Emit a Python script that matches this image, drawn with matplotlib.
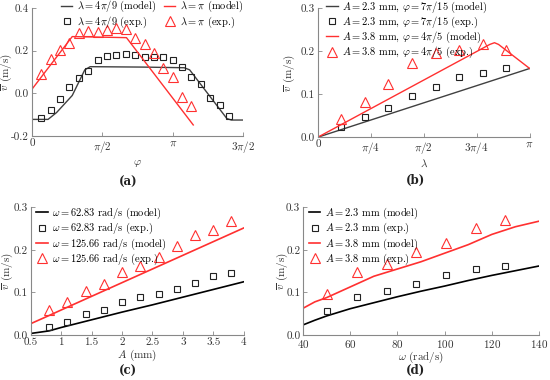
import matplotlib
matplotlib.use('Agg')
import matplotlib.pyplot as plt
import numpy as np

plt.rcParams['font.family'] = 'serif'
plt.rcParams['font.serif'] = ['cmr10', 'DejaVu Serif']
plt.rcParams['mathtext.fontset'] = 'cm'
plt.rcParams['axes.formatter.use_mathtext'] = True
plt.rcParams['font.size'] = 8

PI = np.pi
RED = '#ff3030'
DARK = '#404040'
LEGFS = 7.5

# ---------------- (a) v vs phi
a_line_blk_x = [0, 0.36, 0.55, 0.9, 1.18, 1.3, 2.5, 3.4, 3.52, 4.35, 4.45, 4.71]
a_line_blk_y = [-0.122, -0.122, -0.09, -0.01, 0.11, 0.125, 0.123, 0.12, 0.11, -0.118, -0.125, -0.125]
a_line_red_x = [0, 0.90, 2.11, 3.60]
a_line_red_y = [0.019, 0.266, 0.261, -0.148]
a_sq_k = list(range(1, 22))
a_sq_y = [-0.114, -0.078, -0.027, 0.030, 0.070, 0.103, 0.155, 0.175, 0.180, 0.186, 0.180,
          0.172, 0.169, 0.169, 0.156, 0.123, 0.075, 0.042, -0.023, -0.056, -0.108]
a_tri_k = list(range(1, 18))
a_tri_y = [0.089, 0.159, 0.203, 0.238, 0.281, 0.291, 0.289, 0.295, 0.306, 0.300, 0.258,
           0.231, 0.189, 0.117, 0.077, -0.016, -0.059]

# ---------------- (b) v vs lambda
b_line_blk_x = [0, PI]
b_line_blk_y = [0, 0.160]
b_line_red_x = [0, 2.55, 2.62, 2.68, PI]
b_line_red_y = [0, 0.216, 0.220, 0.216, 0.160]
b_k = list(range(1, 9))
b_sq_y = [0.023, 0.048, 0.068, 0.096, 0.117, 0.141, 0.150, 0.161]
b_tri_y = [0.043, 0.083, 0.125, 0.173, 0.195, 0.204, 0.216, 0.202]

# ---------------- (c) v vs A
c_line_x = [0.5, 0.8, 1.0, 1.5, 2.0, 2.5, 3.0, 3.5, 4.0]
c_line_blk_y = [0.004, 0.010, 0.018, 0.036, 0.054, 0.071, 0.089, 0.107, 0.125]
c_line_red_y = [0.027, 0.046, 0.059, 0.091, 0.123, 0.155, 0.187, 0.219, 0.251]
c_A = [0.8, 1.1, 1.4, 1.7, 2.0, 2.3, 2.6, 2.9, 3.2, 3.5, 3.8]
c_sq_y = [0.019, 0.030, 0.050, 0.060, 0.078, 0.089, 0.097, 0.108, 0.122, 0.139, 0.146]
c_tri_y = [0.058, 0.078, 0.103, 0.119, 0.148, 0.161, 0.182, 0.209, 0.234, 0.246, 0.267]

# ---------------- (d) v vs omega
d_line_x = [40, 45, 50, 60, 70, 80, 90, 100, 110, 120, 130, 140]
d_line_blk_y = [0.024, 0.035, 0.045, 0.062, 0.076, 0.090, 0.103, 0.115, 0.128, 0.140, 0.151, 0.162]
d_line_red_y = [0.063, 0.078, 0.088, 0.113, 0.138, 0.155, 0.172, 0.192, 0.212, 0.236, 0.254, 0.267]
d_w = [50.27, 62.83, 75.40, 87.96, 100.53, 113.10, 125.66]
d_sq_y = [0.056, 0.090, 0.103, 0.119, 0.140, 0.156, 0.161]
d_tri_y = [0.097, 0.148, 0.166, 0.195, 0.217, 0.251, 0.269]

fig = plt.figure(figsize=(5.5, 3.8), dpi=100)
axa = fig.add_axes([0.058, 0.642, 0.384, 0.337])
axb = fig.add_axes([0.578, 0.639, 0.385, 0.339])
axc = fig.add_axes([0.056, 0.118, 0.387, 0.337])
axd = fig.add_axes([0.551, 0.118, 0.429, 0.337])

def style(ax, ylab_x):
    for s in ['top', 'right']:
        ax.spines[s].set_visible(False)
    for s in ['left', 'bottom']:
        ax.spines[s].set_color('#888888')
        ax.spines[s].set_linewidth(0.8)
    ax.tick_params(direction='in', length=3, width=0.6, colors='#888888',
                   labelcolor='#333333', labelsize=8, pad=2)
    ax.set_ylabel(r'$\overline{v}$ (m/s)', color='#333333')
    ax.yaxis.set_label_coords(ylab_x, 0.5)

def legend(ax, **kw):
    ax.legend(frameon=False, fontsize=LEGFS, handlelength=1.1, handletextpad=0.4,
              labelspacing=0.0, borderpad=0.0, borderaxespad=0.0, **kw)

def panel(x, y, s):
    fig.text(x, y, s, ha='center', va='center', fontsize=8.5,
             fontfamily='DejaVu Serif', fontweight='bold', color='#222222')

sq = dict(ls='none', marker='s', ms=5, mfc='none', mec='#222222', mew=0.8)
tri = dict(ls='none', marker='^', ms=6.5, mfc='none', mec=RED, mew=0.8)

# (a)
ax = axa
ax.plot(a_line_blk_x, a_line_blk_y, color=DARK, lw=1, label=r'$\lambda = 4\pi/9$ (model)')
ax.plot([k * PI / 15 for k in a_sq_k], a_sq_y, label=r'$\lambda = 4\pi/9$ (exp.)', **sq)
ax.plot(a_line_red_x, a_line_red_y, color=RED, lw=1, label=r'$\lambda = \pi$ (model)')
ax.plot([k * PI / 15 for k in a_tri_k], a_tri_y, label=r'$\lambda = \pi$ (exp.)', **tri)
ax.set_xlim(0, 1.5 * PI)
ax.set_ylim(-0.2, 0.4)
ax.set_xticks([0, PI / 2, PI, 1.5 * PI])
ax.set_xticklabels(['0', r'$\pi/2$', r'$\pi$', r'$3\pi/2$'])
ax.set_yticks([-0.2, 0.0, 0.2, 0.4])
ax.set_yticklabels(['-0.2', '0.0', '0.2', '0.4'])
style(ax, -0.085)
ax.set_xlabel(r'$\varphi$', color='#333333', labelpad=2)
legend(ax, ncol=2, loc='upper right', bbox_to_anchor=(1.0, 1.07), columnspacing=0.8)
panel(0.233, 0.521, '(a)')

# (b)
ax = axb
ax.plot(b_line_blk_x, b_line_blk_y, color=DARK, lw=1,
        label=r'$A = 2.3$ mm, $\varphi = 7\pi/15$ (model)')
ax.plot([k * PI / 9 for k in b_k], b_sq_y,
        label=r'$A = 2.3$ mm, $\varphi = 7\pi/15$ (exp.)', **sq)
ax.plot(b_line_red_x, b_line_red_y, color=RED, lw=1,
        label=r'$A = 3.8$ mm, $\varphi = 4\pi/5$ (model)')
ax.plot([k * PI / 9 for k in b_k], b_tri_y,
        label=r'$A = 3.8$ mm, $\varphi = 4\pi/5$ (exp.)', **tri)
ax.set_xlim(0, PI)
ax.set_ylim(0, 0.3)
ax.set_xticks([0, PI / 4, PI / 2, 3 * PI / 4, PI])
ax.set_xticklabels(['0', r'$\pi/4$', r'$\pi/2$', r'$3\pi/4$', r'$\pi$'])
ax.set_yticks([0, 0.1, 0.2, 0.3])
ax.set_yticklabels(['0.0', '0.1', '0.2', '0.3'])
style(ax, -0.1)
ax.set_xlabel(r'$\lambda$', color='#333333', labelpad=1)
legend(ax, loc='upper left', bbox_to_anchor=(0.04, 1.07))
panel(0.755, 0.526, '(b)')

# (c)
ax = axc
ax.plot(c_line_x, c_line_blk_y, color='black', lw=1.2, label=r'$\omega = 62.83$ rad/s (model)')
ax.plot(c_A, c_sq_y, label=r'$\omega = 62.83$ rad/s (exp.)', **sq)
ax.plot(c_line_x, c_line_red_y, color=RED, lw=1.2, label=r'$\omega = 125.66$ rad/s (model)')
ax.plot(c_A, c_tri_y, label=r'$\omega = 125.66$ rad/s (exp.)', **tri)
ax.set_xlim(0.5, 4)
ax.set_ylim(0, 0.3)
ax.set_xticks([0.5, 1, 1.5, 2, 2.5, 3, 3.5, 4])
ax.set_xticklabels(['0.5', '1', '1.5', '2', '2.5', '3', '3.5', '4'])
ax.set_yticks([0, 0.1, 0.2, 0.3])
ax.set_yticklabels(['0.0', '0.1', '0.2', '0.3'])
style(ax, -0.075)
ax.set_xlabel(r'$A$ (mm)', color='#333333', labelpad=0)
legend(ax, loc='upper left', bbox_to_anchor=(0.025, 1.01))
panel(0.233, 0.022, '(c)')

# (d)
ax = axd
ax.plot(d_line_x, d_line_blk_y, color='black', lw=1.2, label=r'$A = 2.3$ mm (model)')
ax.plot(d_w, d_sq_y, label=r'$A = 2.3$ mm (exp.)', **sq)
ax.plot(d_line_x, d_line_red_y, color=RED, lw=1.2, label=r'$A = 3.8$ mm (model)')
ax.plot(d_w, d_tri_y, label=r'$A = 3.8$ mm (exp.)', **tri)
ax.set_xlim(40, 140)
ax.set_ylim(0, 0.3)
ax.set_xticks([40, 60, 80, 100, 120, 140])
ax.set_yticks([0, 0.1, 0.2, 0.3])
ax.set_yticklabels(['0.0', '0.1', '0.2', '0.3'])
style(ax, -0.055)
ax.set_xlabel(r'$\omega$ (rad/s)', color='#333333', labelpad=0)
legend(ax, loc='upper left', bbox_to_anchor=(0.025, 1.01))
panel(0.755, 0.024, '(d)')

fig.savefig('out.png', dpi=100)
